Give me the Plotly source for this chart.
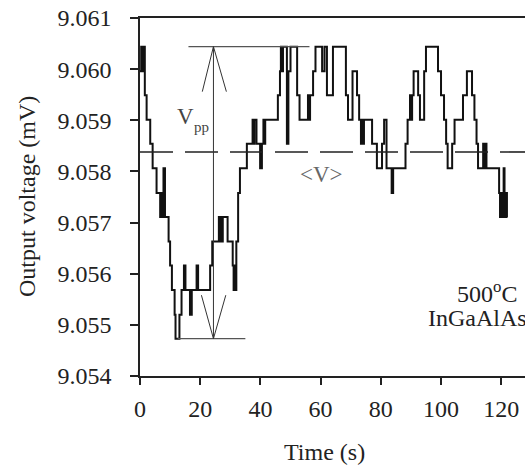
import plotly.graph_objects as go

# Read values: time (s) at which the stepped signal changes, and the new level (mV)
time_s = [0.0, 0.4, 0.7, 1.0, 1.6, 2.2, 3.4, 4.2, 5.5, 6.7, 7.0, 7.3, 7.8, 8.3, 9.5, 10.0,
          10.6, 11.5, 11.8, 13.1, 13.8, 14.6, 15.1, 16.6, 17.2, 18.8, 19.3, 23.3, 24.0, 26.2,
          26.5, 26.8, 27.1, 27.5, 29.1, 30.8, 31.1, 31.4, 31.7, 32.0, 32.6, 33.2, 35.5, 37.4,
          37.7, 38.0, 38.7, 39.9, 40.5, 41.0, 41.3, 41.6, 45.8, 46.5, 46.8, 47.2, 47.5, 48.8,
          49.3, 50.0, 52.2, 53.0, 55.8, 56.1, 56.5, 57.5, 58.3, 60.5, 61.3, 62.1, 64.1, 68.4,
          69.1, 70.6, 72.1, 72.8, 73.4, 73.8, 74.1, 74.4, 77.1, 78.7, 80.4, 81.1, 81.9, 83.6,
          84.1, 88.2, 88.9, 89.7, 90.0, 90.4, 90.9, 92.4, 93.0, 94.4, 95.0, 99.0, 100.0, 101.0,
          101.7, 102.2, 103.7, 104.5, 107.3, 108.6, 110.3, 111.1, 111.8, 112.3, 114.0, 114.3,
          114.8, 115.1, 119.3, 119.6, 120.1, 120.4, 120.8, 121.1, 121.6, 121.9, 122.1]

voltage_mV = [9.05996, 9.06044, 9.05996, 9.06044, 9.05949, 9.05901, 9.05854, 9.05806, 9.05758,
              9.05711, 9.05758, 9.05711, 9.05806, 9.05711, 9.05663, 9.05616, 9.05568, 9.05520,
              9.05473, 9.05520, 9.05568, 9.05616, 9.05568, 9.05520, 9.05568, 9.05616, 9.05568,
              9.05616, 9.05663, 9.05711, 9.05663, 9.05711, 9.05663, 9.05711, 9.05663, 9.05616,
              9.05568, 9.05616, 9.05568, 9.05663, 9.05758, 9.05806, 9.05854, 9.05901, 9.05854,
              9.05901, 9.05854, 9.05806, 9.05854, 9.05901, 9.05854, 9.05901, 9.05949, 9.05996,
              9.06044, 9.05996, 9.06044, 9.05854, 9.05996, 9.06044, 9.05949, 9.05901, 9.05949,
              9.05901, 9.05949, 9.05996, 9.06044, 9.05996, 9.06044, 9.05949, 9.06044, 9.05949,
              9.05901, 9.05996, 9.05949, 9.05901, 9.05854, 9.05901, 9.05854, 9.05901, 9.05854,
              9.05806, 9.05854, 9.05901, 9.05806, 9.05758, 9.05806, 9.05854, 9.05901, 9.05949,
              9.05901, 9.05949, 9.05996, 9.05949, 9.05901, 9.05996, 9.06044, 9.05996, 9.05949,
              9.05901, 9.05854, 9.05806, 9.05854, 9.05901, 9.05949, 9.05996, 9.05949, 9.05901,
              9.05854, 9.05806, 9.05854, 9.05806, 9.05854, 9.05806, 9.05758, 9.05711, 9.05758,
              9.05711, 9.05806, 9.05711, 9.05758, 9.05711, 9.05711]

V_MEAN = 9.05838          # <V>, dashed line
VPP_TIME = 24.4           # position of the Vpp arrow (s)

x_ticks = [0, 20, 40, 60, 80, 100, 120]
y_ticks = [9.054, 9.055, 9.056, 9.057, 9.058, 9.059, 9.060, 9.061]
y_tick_labels = ["9.054", "9.055", "9.056", "9.057", "9.058", "9.059", "9.060", "9.061"]

FONT = "Liberation Serif, Times New Roman, serif"
v_max = max(voltage_mV)
v_min = min(voltage_mV)

fig = go.Figure()
fig.add_trace(go.Scatter(x=time_s, y=voltage_mV, mode="lines", line_shape="hv",
                         line=dict(color="#111111", width=2), showlegend=False,
                         hoverinfo="skip"))

shapes = []
# mean dashed line
shapes.append(dict(type="line", xref="paper", yref="y", x0=0, x1=1, y0=V_MEAN, y1=V_MEAN,
                   line=dict(color="#222222", width=1.6, dash="33px,12px")))
# Vpp horizontal markers
shapes.append(dict(type="line", xref="x", yref="y", x0=16.1, x1=56.3, y0=v_max, y1=v_max,
                   line=dict(color="#555555", width=1.3)))
shapes.append(dict(type="line", xref="x", yref="y", x0=12.5, x1=35.0, y0=v_min, y1=v_min,
                   line=dict(color="#555555", width=1.3)))
# double arrow
shapes.append(dict(type="line", xref="x", yref="y", x0=VPP_TIME, x1=VPP_TIME, y0=v_min, y1=v_max,
                   line=dict(color="#333333", width=1)))
shapes.append(dict(type="line", xref="x", yref="y", x0=VPP_TIME, x1=20.7, y0=v_max, y1=9.05956,
                   line=dict(color="#333333", width=1)))
shapes.append(dict(type="line", xref="x", yref="y", x0=VPP_TIME, x1=28.7, y0=v_max, y1=9.05956,
                   line=dict(color="#333333", width=1)))
shapes.append(dict(type="line", xref="x", yref="y", x0=VPP_TIME, x1=20.4, y0=v_min, y1=9.05558,
                   line=dict(color="#333333", width=1)))
shapes.append(dict(type="line", xref="x", yref="y", x0=VPP_TIME, x1=28.5, y0=v_min, y1=9.05558,
                   line=dict(color="#333333", width=1)))

ann = [
    dict(text="Output voltage (mV)", textangle=-90, xref="paper", yref="paper",
         x=-0.2935, y=0.5, xanchor="center", yanchor="middle", showarrow=False,
         font=dict(family=FONT, size=24, color="#222222")),
    dict(text="Time (s)", xref="paper", yref="paper", x=0.4805, y=-0.2123,
         xanchor="center", yanchor="middle", showarrow=False,
         font=dict(family=FONT, size=24, color="#222222")),
    dict(text="500<sup>o</sup>C", xref="paper", yref="paper", x=0.9844, y=0.2346,
         xanchor="right", yanchor="middle", showarrow=False,
         font=dict(family=FONT, size=24, color="#222222")),
    dict(text="InGaAlAs", xref="paper", yref="paper", x=0.742, y=0.162,
         xanchor="left", yanchor="middle", showarrow=False,
         font=dict(family=FONT, size=24, color="#222222")),
    dict(text="&lt;V&gt;", xref="paper", yref="paper", x=0.4727, y=0.5615,
         xanchor="center", yanchor="middle", showarrow=False,
         font=dict(family=FONT, size=23, color="#666666")),
    dict(text="V", xref="paper", yref="paper", x=0.118, y=0.7249,
         xanchor="center", yanchor="middle", showarrow=False,
         font=dict(family=FONT, size=23, color="#444444")),
    dict(text="pp", xref="paper", yref="paper", x=0.1597, y=0.6955,
         xanchor="center", yanchor="middle", showarrow=False,
         font=dict(family=FONT, size=15, color="#444444")),
]

fig.update_layout(
    width=525, height=466, autosize=False,
    margin=dict(l=140, r=0, t=18, b=90),
    paper_bgcolor="white", plot_bgcolor="white",
    font=dict(family=FONT, size=24, color="#222222"),
    shapes=shapes, annotations=ann,
    xaxis=dict(range=[0, 127.9], tickvals=x_ticks, ticks="outside", ticklen=7, tickwidth=1.5,
               tickcolor="#222222", showline=True, linecolor="#222222", linewidth=1.5,
               mirror=True, showgrid=False, zeroline=False, ticklabelstandoff=3,
               tickfont=dict(family=FONT, size=24, color="#222222")),
    yaxis=dict(range=[9.054, 9.061], tickvals=y_ticks, ticktext=y_tick_labels,
               ticks="outside", ticklen=8, tickwidth=1.5, tickcolor="#222222",
               showline=True, linecolor="#222222", linewidth=1.5, showgrid=False,
               zeroline=False, ticklabelstandoff=14,
               tickfont=dict(family=FONT, size=24, color="#222222")),
)

fig.write_html("out.html", config={"displayModeBar": False},
               post_script="document.body.style.margin='0';document.body.style.padding='0';")
